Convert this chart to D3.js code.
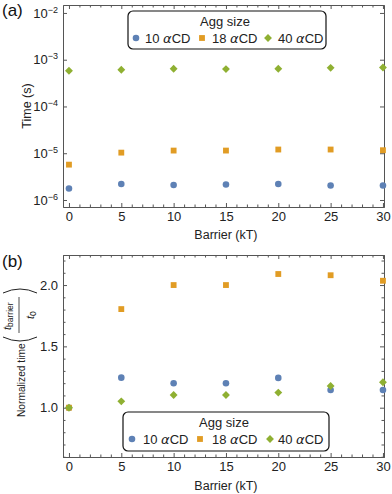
<!DOCTYPE html>
<html>
<head>
<meta charset="utf-8">
<script src="https://cdn.jsdelivr.net/npm/d3@7"></script>
<style>
  body { margin: 0; background: #fff; }
  svg { font-family: "Liberation Sans", Arial, sans-serif; }
  .frame path.domain { stroke: #555; }
  .frame line { stroke: #555; }
  .frame text { fill: #222; font-size: 13px; }
</style>
</head>
<body>
<svg width="392" height="494"></svg>
<script>
const barrier = [0, 5, 10, 15, 20, 25, 30]
const sizeNames = ["10", "18", "40"]

// panel (a): time in seconds
const time10 = [1.76e-6, 2.2e-6, 2.1e-6, 2.14e-6, 2.2e-6, 2.04e-6, 2.04e-6]
const time18 = [5.7e-6, 1.03e-5, 1.14e-5, 1.14e-5, 1.2e-5, 1.2e-5, 1.16e-5]
const time40 = [5.8e-4, 6.1e-4, 6.4e-4, 6.3e-4, 6.4e-4, 6.7e-4, 6.8e-4]

// panel (b): normalized time
const norm10 = [1, 1.245, 1.2, 1.2, 1.243, 1.144, 1.144]
const norm18 = [1, 1.804, 2.0, 2.0, 2.09, 2.08, 2.035]
const norm40 = [1, 1.052, 1.104, 1.104, 1.123, 1.177, 1.207]

const xTicks = [0, 5, 10, 15, 20, 25, 30]
const logTicks = [-6, -5, -4, -3, -2]
const normTicks = [1.0, 1.5, 2.0]

const COLORS = ["#5E81B5", "#E19C24", "#8FB032"]
const SHAPES = ["circle", "square", "diamond"]

const svg = d3.select("svg")

function marker(g, shape, color) {
	if (shape == "circle") {
		g.append("path").attr("d", d3.symbol(d3.symbolCircle, 34)()).attr("fill", color)
	} else if (shape == "square") {
		g.append("path").attr("d", d3.symbol(d3.symbolSquare, 34)()).attr("fill", color)
	} else {
		g.append("path").attr("d", d3.symbol(d3.symbolSquare, 31)())
			.attr("transform", "rotate(45)").attr("fill", color)
	}
}

function drawFrame(x, y, top, bottom, left, right, yMajor, yMinor, yFormat) {
	const minorX = d3.range(0, 31, 1).filter(d => d % 5 != 0)
	// bottom
	svg.append("g").attr("class", "frame").attr("transform", `translate(0,${bottom})`)
		.call(d3.axisBottom(x).tickValues(xTicks).tickSizeInner(-4).tickSizeOuter(0).tickPadding(5).tickFormat(d3.format("d")))
	svg.append("g").attr("class", "frame").attr("transform", `translate(0,${bottom})`)
		.call(d3.axisBottom(x).tickValues(minorX).tickSizeInner(-2.5).tickSizeOuter(0).tickFormat(""))
	// top
	svg.append("g").attr("class", "frame").attr("transform", `translate(0,${top})`)
		.call(d3.axisTop(x).tickValues(xTicks).tickSizeInner(-4).tickSizeOuter(0).tickFormat(""))
	svg.append("g").attr("class", "frame").attr("transform", `translate(0,${top})`)
		.call(d3.axisTop(x).tickValues(minorX).tickSizeInner(-2.5).tickSizeOuter(0).tickFormat(""))
	// left
	const la = svg.append("g").attr("class", "frame").attr("transform", `translate(${left},0)`)
		.call(d3.axisLeft(y).tickValues(yMajor).tickSizeInner(-4).tickSizeOuter(0).tickPadding(5).tickFormat(yFormat))
	// right
	svg.append("g").attr("class", "frame").attr("transform", `translate(${right},0)`)
		.call(d3.axisRight(y).tickValues(yMajor).tickSizeInner(-4).tickSizeOuter(0).tickFormat(""))
	if (yMinor) {
		svg.append("g").attr("class", "frame").attr("transform", `translate(${left},0)`)
			.call(d3.axisLeft(y).tickValues(yMinor).tickSizeInner(-2.5).tickSizeOuter(0).tickFormat(""))
		svg.append("g").attr("class", "frame").attr("transform", `translate(${right},0)`)
			.call(d3.axisRight(y).tickValues(yMinor).tickSizeInner(-2.5).tickSizeOuter(0).tickFormat(""))
	}
	svg.selectAll(".frame .tick text").attr("font-family", null).attr("font-size", null)
	return la
}

function drawPoints(x, y, series, xv) {
	series.forEach((vals, k) => {
		vals.forEach((v, i) => {
			const g = svg.append("g").attr("transform", `translate(${x(xv[i])},${y(v)})`)
			marker(g, SHAPES[k], COLORS[k])
		})
	})
}

function drawLegend(x0, y0, w, h, itemX, textX) {
	svg.append("rect").attr("x", x0).attr("y", y0).attr("width", w).attr("height", h)
		.attr("rx", 5).attr("fill", "#fff").attr("stroke", "#111").attr("stroke-width", 1.2)
	svg.append("text").attr("x", x0 + w / 2 - 2).attr("y", y0 + 14.5).attr("text-anchor", "middle")
		.attr("font-size", 13).attr("fill", "#222").text("Agg size")
	sizeNames.forEach((s, k) => {
		const g = svg.append("g").attr("transform", `translate(${itemX[k]},${y0 + 27})`)
		marker(g, SHAPES[k], COLORS[k])
		const t = svg.append("text").attr("x", textX[k]).attr("y", y0 + 31.5)
			.attr("font-size", 13).attr("fill", "#222")
		t.append("tspan").text(s + " ")
		t.append("tspan").attr("font-style", "italic").attr("font-family", "DejaVu Sans, sans-serif").text("α")
		t.append("tspan").text("CD")
	})
}

// ---------- panel (a) ----------
const xA = d3.scaleLinear().domain([-0.57, 30.1]).range([63, 384])
const yA = d3.scaleLog().domain([Math.pow(10, -6.15), Math.pow(10, -1.83)]).range([207, 5])

const axA = drawFrame(xA, yA, 5, 207, 63, 384, logTicks.map(e => Math.pow(10, e)), null, () => "")
axA.selectAll(".tick text").each(function(d) {
	const t = d3.select(this)
	t.append("tspan").text("10")
	t.append("tspan").attr("dy", -5).attr("font-size", 9).text("−" + Math.round(-Math.log10(d)))
})

drawPoints(xA, yA, [time10, time18, time40], barrier)
drawLegend(128, 11, 198, 38, [136, 202, 268], [145, 212, 278])

svg.append("text").attr("transform", `translate(31,106) rotate(-90)`).attr("text-anchor", "middle")
	.attr("font-size", 12.5).attr("fill", "#222").text("Time (s)")
svg.append("text").attr("x", xA(15)).attr("y", 239).attr("text-anchor", "middle")
	.attr("font-size", 12.5).attr("fill", "#222").text("Barrier (kT)")
svg.append("text").attr("x", 2).attr("y", 16).attr("font-size", 17).attr("fill", "#111").text("(a)")

// ---------- panel (b) ----------
const xB = d3.scaleLinear().domain([-0.57, 30.1]).range([63, 384])
const yB = d3.scaleLinear().domain([0.598, 2.245]).range([457, 255])
const normMinor = d3.range(6, 23).map(d => d / 10).filter(d => Math.abs(d * 2 - Math.round(d * 2)) > 0.01)

drawFrame(xB, yB, 255, 457, 63, 384, normTicks, normMinor, d3.format(".1f"))
drawPoints(xB, yB, [norm10, norm18, norm40], barrier)
drawLegend(123, 412, 206, 39, [132, 200, 270], [143, 212, 278])

svg.append("text").attr("x", xB(15)).attr("y", 490).attr("text-anchor", "middle")
	.attr("font-size", 12.5).attr("fill", "#222").text("Barrier (kT)")
svg.append("text").attr("x", 2).attr("y", 267).attr("font-size", 17).attr("fill", "#111").text("(b)")

// rotated y label with fraction
const yl = svg.append("g").attr("transform", `translate(0,352) rotate(-90)`)
yl.append("text").attr("x", -65).attr("y", 25).attr("font-size", 10.2).attr("fill", "#222").text("Normalized time")
yl.append("path").attr("d", "M15,3 Q7,20 15,37").attr("fill", "none").attr("stroke", "#222").attr("stroke-width", 1)
const num = yl.append("text").attr("x", 22).attr("y", 11).attr("font-size", 11).attr("fill", "#222")
num.append("tspan").attr("font-style", "italic").text("t")
num.append("tspan").attr("dy", 2).attr("font-size", 8.5).text("barrier")
yl.append("line").attr("x1", 19).attr("x2", 55).attr("y1", 19).attr("y2", 19).attr("stroke", "#222").attr("stroke-width", 0.8)
const den = yl.append("text").attr("x", 33).attr("y", 34).attr("font-size", 11).attr("fill", "#222")
den.append("tspan").attr("font-style", "italic").text("t")
den.append("tspan").attr("dy", 2).attr("font-size", 8.5).text("0")
yl.append("path").attr("d", "M59,3 Q67,20 59,37").attr("fill", "none").attr("stroke", "#222").attr("stroke-width", 1)
</script>
</body>
</html>
